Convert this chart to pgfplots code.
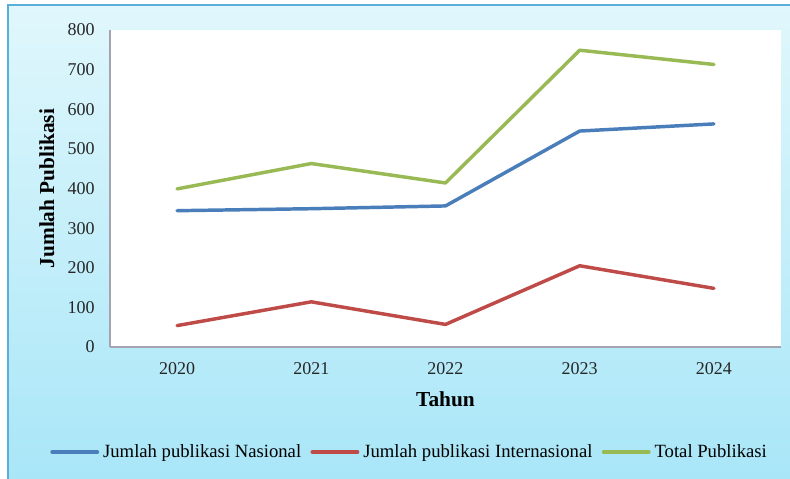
\documentclass[border=0pt]{standalone}
\usepackage{pgfplots}
\pgfplotsset{compat=1.18}
\usepackage{fontspec}
\setmainfont{Liberation Serif}
\definecolor{cblue}{HTML}{4A7EBB}
\definecolor{cred}{HTML}{BE4B48}
\definecolor{cgreen}{HTML}{98B954}
\definecolor{bgtop}{HTML}{E0F7FC}
\definecolor{bgbot}{HTML}{A8E6F8}
\definecolor{frame}{HTML}{5AAFD8}
\definecolor{axgray}{HTML}{A4A4B0}
\begin{document}
\begin{tikzpicture}
\path[use as bounding box] (0pt,0pt) rectangle (592.5pt,359.25pt);
\fill[white] (0pt,0pt) rectangle (592.5pt,359.25pt);
\shade[top color=bgtop,bottom color=bgbot] (6pt,-5pt) rectangle (600pt,355.5pt);
\draw[frame,line width=1.2pt] (6pt,-5pt) -- (6pt,355.5pt) -- (600pt,355.5pt);
\begin{axis}[
  at={(82.5pt,99pt)}, anchor=south west,
  scale only axis, width=503.25pt, height=237.75pt,
  xmin=-0.5, xmax=4.5, ymin=0, ymax=800,
  axis x line*=bottom, axis y line*=left,
  axis line style={axgray, line width=0.8pt, -},
  axis background/.style={fill=white},
  xtick={0,1,2,3,4}, xticklabels={2020,2021,2022,2023,2024},
  ytick={0,100,...,800},
  major tick length=0pt,
  tick label style={font=\fontsize{13.5}{15}\selectfont, text=black!85},
  /pgf/number format/assume math mode=true,
  /pgf/number format/1000 sep={},
  yticklabel style={xshift=-8pt},
  xticklabel style={yshift=-8pt},
  xlabel={\textbf{Tahun}}, ylabel={\textbf{Jumlah Publikasi}},
  label style={font=\fontsize{16}{18}\selectfont},
  xlabel style={yshift=-6pt},
  ylabel style={yshift=3pt},
  legend columns=3,
  legend style={at={(0.447,-0.331)}, anchor=center, draw=none, fill=none,
    font=\fontsize{14}{16}\selectfont,
    /tikz/every odd column/.append style={column sep=1pt},
    /tikz/every even column/.append style={column sep=5pt}},
  legend image code/.code={\draw[#1] (0pt,0pt) -- (34pt,0pt);},
  every axis plot/.append style={line width=2.6pt, line join=round, line cap=round},
]
\addplot[cblue] coordinates {(0,344) (1,349) (2,356) (3,545) (4,563)};
\addlegendentry{Jumlah publikasi Nasional}
\addplot[cred] coordinates {(0,54) (1,114) (2,57) (3,205) (4,148)};
\addlegendentry{Jumlah publikasi Internasional}
\addplot[cgreen] coordinates {(0,399) (1,463) (2,414) (3,749) (4,713)};
\addlegendentry{Total Publikasi}
\end{axis}
\end{tikzpicture}
\end{document}
